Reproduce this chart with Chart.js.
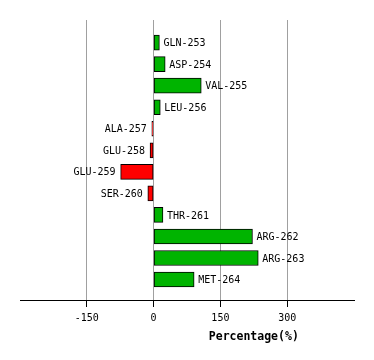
<!DOCTYPE html>
<html>
<head>
<meta charset="utf-8">
<script src="https://cdn.jsdelivr.net/npm/chart.js@4/dist/chart.umd.min.js"></script>
<style>
html,body{margin:0;padding:0;background:#fff;}
#wrap{width:374px;height:360px;position:relative;}
</style>
</head>
<body>
<div id="wrap"><canvas id="c" width="374" height="360"></canvas></div>
<script>
const categories = ['GLN-253','ASP-254','VAL-255','LEU-256','ALA-257','GLU-258','GLU-259','SER-260','THR-261','ARG-262','ARG-263','MET-264'];
const values = [13, 26, 107, 15, -4, -8, -74, -13, 21, 222, 235, 91];
const tickValues = [-150, 0, 150, 300];
const axisTitle = 'Percentage(%)';

const GREEN = '#00b400', RED = '#ff0000';

const barLabels = {
  id: 'barLabels',
  afterDatasetsDraw(chart) {
    const ctx = chart.ctx;
    const meta = chart.getDatasetMeta(0);
    ctx.save();
    ctx.font = '10px "DejaVu Sans Mono"';
    ctx.fillStyle = '#000';
    ctx.textBaseline = 'middle';
    meta.data.forEach((el, i) => {
      const v = values[i];
      if (v >= 0) { ctx.textAlign = 'left'; ctx.fillText(categories[i], el.x + 4, el.y + 1); }
      else { ctx.textAlign = 'right'; ctx.fillText(categories[i], el.x - 5, el.y + 1); }
    });
    const xs = chart.scales.x;
    ctx.font = 'bold 11.5px "DejaVu Sans Mono"';
    ctx.textAlign = 'center';
    ctx.textBaseline = 'alphabetic';
    ctx.fillText(axisTitle, xs.getPixelForValue(225), 340);
    ctx.restore();
  }
};

new Chart(document.getElementById('c'), {
  type: 'bar',
  data: {
    datasets: [{
      data: values.map((v, i) => ({x: v, y: i})),
      backgroundColor: values.map(v => v >= 0 ? GREEN : RED),
      borderColor: '#000',
      borderWidth: 1,
      borderSkipped: false,
      barThickness: 15
    }]
  },
  options: {
    indexAxis: 'y',
    responsive: false,
    animation: false,
    layout: { padding: { left: 20, right: 20, top: 20, bottom: 0 } },
    plugins: { legend: { display: false }, tooltip: { enabled: false } },
    scales: {
      y: { type: 'linear', display: false, offset: false, min: -1.05, max: 11.95, reverse: true },
      x: {
        type: 'linear', min: -300, max: 450,
        afterBuildTicks(scale) { scale.ticks = [-300, ...tickValues, 450].map(v => ({value: v})); },
        afterFit(scale) { scale.height = 60; },
        border: { display: true, color: '#000', width: 1 },
        grid: {
          drawOnChartArea: true,
          color: c => tickValues.includes(c.tick && c.tick.value) ? '#a0a0a0' : 'rgba(0,0,0,0)',
          tickColor: c => tickValues.includes(c.tick && c.tick.value) ? '#000' : 'rgba(0,0,0,0)',
          tickLength: 7,
          lineWidth: 1
        },
        ticks: {
          padding: 5,
          color: '#000',
          font: { family: '"DejaVu Sans Mono"', size: 10 },
          maxRotation: 0,
          autoSkip: false,
          callback: v => tickValues.includes(v) ? String(v) : ''
        }
      }
    }
  },
  plugins: [barLabels]
});
</script>
</body>
</html>
